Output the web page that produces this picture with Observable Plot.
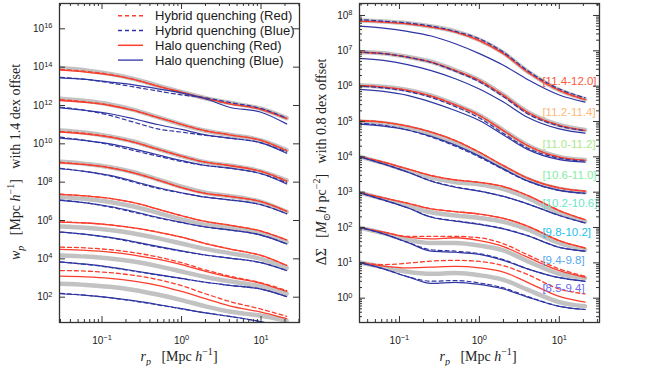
<!DOCTYPE html>
<html><head><meta charset="utf-8">
<script src="https://cdn.jsdelivr.net/npm/d3@7"></script>
<script src="https://cdn.jsdelivr.net/npm/@observablehq/plot@0.6"></script>
<style>
body{margin:0;background:#fff;}
#wrap{position:relative;width:664px;height:366px;overflow:hidden;background:#fff;}
#wrap svg.pl{position:absolute;top:0;}
.lab{position:absolute;font-family:"Liberation Serif","DejaVu Serif",serif;font-size:14px;color:#222;white-space:nowrap;line-height:1;}
.lab sub,.lab sup{font-size:10px;line-height:0;}
.rot{transform:translate(-50%,-50%) rotate(-90deg);}
.hx{transform:translate(-50%,-50%);}
</style></head><body><div id="wrap"></div>
<script>
// projected separation grid (Mpc/h)
const rp = [0.03, 0.063, 0.126, 0.25, 0.5, 1, 2, 4, 10, 21];

// ---- left panel: log10 w_p (with 1.4 dex offsets), 8 stellar-mass bins, top -> bottom
const wpGray = [
[13.95,13.83,13.65,13.39,13.04,12.70,12.38,12.14,11.83,11.34],
[12.35,12.23,12.05,11.77,11.39,11.01,10.68,10.47,10.18,9.67],
[10.70,10.58,10.38,10.12,9.74,9.36,9.04,8.87,8.56,8.09],
[9.06,8.95,8.78,8.52,8.14,7.76,7.45,7.28,6.97,6.45],
[7.22,7.12,6.97,6.73,6.40,6.06,5.78,5.62,5.33,4.87],
[5.69,5.62,5.50,5.32,5.08,4.80,4.52,4.30,4.00,3.53],
[4.18,4.12,4.02,3.86,3.62,3.34,3.05,2.83,2.56,2.18],
[2.70,2.64,2.54,2.38,2.14,1.85,1.52,1.25,1.03,0.78]];
const wpRedHalo = [
[13.84,13.74,13.60,13.36,13.01,12.70,12.38,12.09,11.79,11.31],
[12.26,12.16,12.00,11.74,11.38,11.01,10.68,10.47,10.18,9.64],
[10.61,10.51,10.35,10.09,9.72,9.36,9.04,8.87,8.56,8.05],
[9.01,8.91,8.75,8.49,8.12,7.72,7.42,7.26,6.98,6.49],
[7.36,7.28,7.15,6.93,6.60,6.25,5.95,5.76,5.45,4.99],
[5.92,5.87,5.77,5.62,5.40,5.13,4.80,4.52,4.18,3.66],
[4.49,4.44,4.35,4.20,3.98,3.70,3.35,3.05,2.72,2.30],
[3.10,3.06,2.98,2.84,2.62,2.30,1.92,1.55,1.22,0.88]];
const wpRedHybrid = [
[13.88,13.78,13.62,13.36,13.01,12.66,12.35,12.09,11.83,11.34],
[12.31,12.19,12.02,11.74,11.38,11.01,10.68,10.47,10.18,9.65],
[10.64,10.54,10.37,10.09,9.72,9.36,9.04,8.87,8.56,8.07],
[9.03,8.92,8.76,8.49,8.12,7.72,7.42,7.26,6.98,6.48],
[7.37,7.28,7.15,6.93,6.60,6.25,5.95,5.76,5.45,4.99],
[5.93,5.87,5.77,5.62,5.40,5.13,4.80,4.52,4.18,3.66],
[4.61,4.57,4.48,4.33,4.10,3.80,3.42,3.10,2.75,2.35],
[3.39,3.36,3.28,3.14,2.92,2.60,2.18,1.78,1.38,1.00]];
const wpBlueHalo = [
[13.44,13.36,13.22,13.08,12.87,12.66,12.35,11.91,11.65,11.04],
[11.88,11.74,11.57,11.31,11.01,10.75,10.47,10.30,10.05,9.51],
[10.30,10.17,10.00,9.74,9.43,9.13,8.87,8.73,8.44,7.91],
[8.70,8.55,8.35,8.05,7.72,7.45,7.22,7.08,6.82,6.35],
[7.05,6.92,6.73,6.47,6.17,5.90,5.66,5.51,5.24,4.78],
[5.39,5.28,5.12,4.90,4.65,4.42,4.20,4.04,3.80,3.39],
[3.83,3.72,3.57,3.38,3.18,2.98,2.78,2.62,2.42,2.03],
[2.18,2.10,1.98,1.82,1.62,1.40,1.18,1.00,0.72,0.40]];
const wpBlueHybrid = [
[13.47,13.36,13.18,12.97,12.76,12.55,12.40,12.16,11.84,11.34],
[11.91,11.74,11.48,11.13,10.78,10.61,10.44,10.30,10.05,9.57],
[10.35,10.17,9.95,9.65,9.36,9.08,8.87,8.73,8.44,7.97],
[8.72,8.55,8.32,8.00,7.68,7.43,7.22,7.08,6.82,6.36],
[7.07,6.92,6.70,6.43,6.14,5.89,5.66,5.51,5.24,4.78],
[5.40,5.27,5.10,4.87,4.62,4.40,4.19,4.04,3.80,3.39],
[3.84,3.71,3.55,3.36,3.16,2.97,2.78,2.62,2.42,2.03],
[2.20,2.10,1.97,1.80,1.60,1.39,1.18,1.00,0.72,0.40]];

// ---- right panel: log10 DeltaSigma (with offsets)
const dsGray = [
[7.86,7.83,7.78,7.69,7.55,7.31,6.94,6.42,5.89,5.63],
[6.97,6.93,6.83,6.69,6.45,6.17,5.75,5.27,4.90,4.76],
[6.03,5.98,5.89,5.73,5.48,5.18,4.75,4.33,4.00,3.91],
[5.00,4.95,4.84,4.66,4.41,4.08,3.71,3.37,3.09,3.00],
[4.02,3.82,3.61,3.41,3.28,3.22,3.09,2.84,2.41,2.17],
[3.00,2.81,2.62,2.43,2.34,2.27,2.16,1.95,1.56,1.37],
[2.01,1.84,1.65,1.56,1.56,1.49,1.35,1.05,0.69,0.57],
[1.02,0.88,0.75,0.69,0.71,0.65,0.52,0.24,-0.11,-0.23]];
const dsRedHalo = [
[7.84,7.81,7.76,7.67,7.53,7.29,6.92,6.40,5.88,5.62],
[6.96,6.92,6.82,6.68,6.44,6.16,5.74,5.26,4.89,4.75],
[6.02,5.97,5.88,5.72,5.47,5.17,4.74,4.32,3.99,3.90],
[5.03,4.98,4.87,4.70,4.46,4.13,3.75,3.40,3.12,3.03],
[4.02,3.85,3.66,3.47,3.35,3.28,3.16,2.91,2.48,2.22],
[3.00,2.84,2.69,2.53,2.45,2.38,2.26,2.04,1.63,1.42],
[2.01,1.87,1.73,1.68,1.71,1.63,1.46,1.16,0.78,0.59],
[1.02,0.91,0.86,0.88,0.90,0.86,0.74,0.45,0.05,-0.11]];
const dsRedHybrid = [
[7.85,7.82,7.77,7.68,7.54,7.30,6.93,6.41,5.88,5.62],
[6.96,6.92,6.82,6.68,6.44,6.16,5.74,5.26,4.89,4.75],
[6.02,5.97,5.88,5.72,5.47,5.17,4.74,4.32,3.99,3.90],
[5.03,4.98,4.87,4.70,4.46,4.13,3.75,3.40,3.12,3.03],
[4.02,3.85,3.66,3.47,3.35,3.28,3.16,2.91,2.48,2.22],
[3.00,2.84,2.69,2.53,2.45,2.38,2.26,2.04,1.63,1.42],
[2.01,1.87,1.75,1.75,1.75,1.71,1.54,1.23,0.83,0.62],
[1.02,0.95,0.99,1.05,1.07,1.04,0.92,0.67,0.26,0.12]];
const dsBlueHalo = [
[7.70,7.64,7.55,7.42,7.20,6.92,6.59,6.19,5.75,5.55],
[6.79,6.73,6.61,6.44,6.21,5.92,5.55,5.12,4.79,4.67],
[5.91,5.85,5.74,5.55,5.31,5.03,4.62,4.21,3.92,3.85],
[4.93,4.87,4.76,4.58,4.33,4.02,3.66,3.32,3.05,2.97],
[4.02,3.80,3.57,3.31,3.14,3.03,2.88,2.67,2.34,2.13],
[3.00,2.78,2.56,2.29,2.18,2.09,1.96,1.77,1.44,1.33],
[2.01,1.82,1.58,1.33,1.30,1.24,1.07,0.83,0.58,0.48],
[1.02,0.83,0.61,0.42,0.45,0.39,0.26,0.03,-0.23,-0.32]];
const dsBlueHybrid = [
[7.89,7.84,7.79,7.70,7.55,7.34,6.96,6.44,5.92,5.67],
[6.96,6.92,6.82,6.67,6.42,6.12,5.70,5.22,4.87,4.74],
[6.00,5.95,5.85,5.68,5.42,5.10,4.66,4.25,3.96,3.88],
[4.95,4.89,4.76,4.56,4.30,3.99,3.64,3.31,3.05,2.97],
[4.02,3.80,3.57,3.32,3.15,3.03,2.88,2.67,2.34,2.13],
[3.00,2.78,2.56,2.30,2.19,2.10,1.97,1.77,1.44,1.33],
[2.01,1.82,1.58,1.37,1.33,1.26,1.09,0.83,0.58,0.48],
[1.02,0.83,0.61,0.48,0.50,0.43,0.29,0.05,-0.23,-0.32]];

// ---- bin labels (log10 stellar mass ranges)
const binLabels = ["[11.4-12.0]","[11.2-11.4]","[11.0-11.2]","[10.6-11.0]","[10.2-10.6]","[9.8-10.2]","[9.4-9.8]","[8.5-9.4]"];
const binColors = ["#fb5a3c","#fdb878","#aee88e","#86eea4","#6ae6c8","#26c0e8","#58a8f0","#6a6af0"];
const binLabelX = 6.15;
const binLabelLogY = [6.13,5.25,4.35,3.47,2.68,1.86,1.07,0.28];

// ---- ticks
const xMajor = [0.1, 1, 10];
const wpMajor = [1e2,1e4,1e6,1e8,1e10,1e12,1e14,1e16];
const dsMajor = [1,10,1e2,1e3,1e4,1e5,1e6,1e7,1e8];
const legendItems = [
  {label:"Hybrid quenching (Red)", color:"red", dash:true},
  {label:"Hybrid quenching (Blue)", color:"blue", dash:true},
  {label:"Halo quenching (Red)", color:"red", dash:false},
  {label:"Halo quenching (Blue)", color:"blue", dash:false}];

const RED = "#fb3d2c", BLUE = "#2f35a2", GRAY = "#c2c2c2";
const INK = "#333";

function rows(arr){ return arr.flatMap((g,i)=>g.map((v,j)=>({bin:i, rp:rp[j], y:Math.pow(10,v)}))); }
function minorTicks(lo, hi){ const out=[]; for(let e=Math.floor(Math.log10(lo)); e<=Math.ceil(Math.log10(hi)); e++){ for(let m=2;m<=9;m++){const v=m*Math.pow(10,e); if(v>=lo&&v<=hi) out.push(v);} } return out; }
const sup = (v)=>{ const e=Math.round(Math.log10(v)); return "10^"+(e<0?"\u2212"+(-e):e); };

function panel({width, mL, mR, xDom, yDom, gray, redH, redY, blueH, blueY, yMajor, yMinor, extra=[]}){
  const mT=3, mB=44, H=366;
  const fw = width-mL-mR, fh = H-mT-mB;
  const xs = xMajor.filter(v=>v>=xDom[0]&&v<=xDom[1]);
  const xm = minorTicks(xDom[0], xDom[1]);
  const ym = yMinor ? minorTicks(yDom[0], yDom[1]) : [];
  const ys = yMajor.filter(v=>v>=yDom[0]&&v<=yDom[1]);
  const tk = {stroke:INK, strokeWidth:1};
  const p = Plot.plot({
    width, height:H, marginLeft:mL, marginRight:mR, marginTop:mT, marginBottom:mB,
    x:{type:"log", domain:xDom}, y:{type:"log", domain:yDom},
    style:{fontFamily:"'Liberation Sans', Arial, sans-serif", fontSize:"10px", color:"#222", background:"transparent", overflow:"visible"},
    marks:[
      Plot.line(rows(gray), {x:"rp", y:"y", z:"bin", stroke:GRAY, strokeWidth:4.5, curve:"monotone-x", clip:true}),
      Plot.line(rows(redH), {x:"rp", y:"y", z:"bin", stroke:RED, strokeWidth:1.3, curve:"monotone-x", clip:true}),
      Plot.line(rows(redY), {x:"rp", y:"y", z:"bin", stroke:RED, strokeWidth:1.3, strokeDasharray:"4,3", curve:"monotone-x", clip:true}),
      Plot.line(rows(blueH), {x:"rp", y:"y", z:"bin", stroke:BLUE, strokeWidth:1.2, curve:"monotone-x", clip:true}),
      Plot.line(rows(blueY), {x:"rp", y:"y", z:"bin", stroke:BLUE, strokeWidth:1.2, strokeDasharray:"4,3", curve:"monotone-x", clip:true}),
      ...extra,
      Plot.tickX(xs, {x:d=>d, insetTop:fh-6, ...tk}),
      Plot.tickX(xs, {x:d=>d, insetBottom:fh-6, ...tk}),
      Plot.tickX(xm, {x:d=>d, insetTop:fh-3, ...tk}),
      Plot.tickX(xm, {x:d=>d, insetBottom:fh-3, ...tk}),
      Plot.tickY(ys, {y:d=>d, insetRight:fw-6, ...tk}),
      Plot.tickY(ys, {y:d=>d, insetLeft:fw-6, ...tk}),
      Plot.tickY(ym, {y:d=>d, insetRight:fw-3, ...tk}),
      Plot.tickY(ym, {y:d=>d, insetLeft:fw-3, ...tk}),
      Plot.axisX({ticks:xs, tickSize:0, tickPadding:14, tickFormat:sup, label:null}),
      Plot.axisY({ticks:ys, tickSize:0, tickPadding:7, tickFormat:sup, label:null}),
      Plot.frame({stroke:INK, strokeWidth:1.3})
    ]
  });
  p.classList.add("pl");
  p.querySelectorAll("g[aria-label$='tick label'] text").forEach(t=>{
    const m = t.textContent.match(/^10\^(.*)$/);
    if(!m) return;
    t.textContent = "10";
    const ts = document.createElementNS("http://www.w3.org/2000/svg","tspan");
    ts.setAttribute("dy","-0.5em"); ts.setAttribute("font-size","7.5px");
    ts.textContent = m[1]; t.appendChild(ts);
  });
  return p;
}

const wrap = document.getElementById("wrap");
const left = panel({width:330, mL:59, mR:31,
  xDom:[Math.pow(10,-1.535), Math.pow(10,1.484)], yDom:[Math.pow(10,0.68), Math.pow(10,17.32)],
  gray:wpGray, redH:wpRedHalo, redY:wpRedHybrid, blueH:wpBlueHalo, blueY:wpBlueHybrid,
  yMajor:wpMajor, yMinor:false});
left.style.left = "0px";
wrap.appendChild(left);

const labelRows = binLabels.map((t,i)=>({t, c:binColors[i], y:Math.pow(10,binLabelLogY[i])}));
const right = panel({width:334, mL:29, mR:65,
  xDom:[Math.pow(10,-1.5), Math.pow(10,1.503)], yDom:[Math.pow(10,-0.688), Math.pow(10,8.339)],
  gray:dsGray, redH:dsRedHalo, redY:dsRedHybrid, blueH:dsBlueHalo, blueY:dsBlueHybrid,
  yMajor:dsMajor, yMinor:true,
  extra:[Plot.text(labelRows, {x:()=>binLabelX, y:"y", text:"t", fill:"c", textAnchor:"start", fontSize:11.5, fontFamily:"'Liberation Sans', Arial, sans-serif"})]});
right.style.left = "330px";
wrap.appendChild(right);

// legend (upper part of the left panel)
const NS="http://www.w3.org/2000/svg";
const lg = document.createElementNS(NS,"svg");
lg.setAttribute("width","200"); lg.setAttribute("height","70");
lg.style.cssText="position:absolute;left:110px;top:6px;";
legendItems.forEach((it,i)=>{
  const y = 9.7 + i*14.8;
  const ln = document.createElementNS(NS,"line");
  ln.setAttribute("x1",8); ln.setAttribute("x2",33); ln.setAttribute("y1",y); ln.setAttribute("y2",y);
  ln.setAttribute("stroke", it.color==="red"?RED:BLUE); ln.setAttribute("stroke-width", it.color==="red"?1.5:1.3);
  if(it.dash) ln.setAttribute("stroke-dasharray","4,3");
  lg.appendChild(ln);
  const tx = document.createElementNS(NS,"text");
  tx.setAttribute("x",45); tx.setAttribute("y",y+4.6);
  tx.setAttribute("font-family","'Liberation Sans', Arial, sans-serif"); tx.setAttribute("font-size","13");
  tx.setAttribute("fill","#1a1a1a");
  tx.textContent = it.label; lg.appendChild(tx);
});
wrap.appendChild(lg);

// axis titles
function lab(html, x, y, cls){ const d=document.createElement("div"); d.className="lab "+cls; d.innerHTML=html; d.style.left=x+"px"; d.style.top=y+"px"; wrap.appendChild(d); }
const rpLab = '<i>r</i><sub><i>p</i></sub>&nbsp;&nbsp;&nbsp;[Mpc <i>h</i><sup>\u22121</sup>]';
lab(rpLab, 179, 357, "hx");
lab(rpLab, 478, 357, "hx");
lab('<i>w</i><sub><i>p</i></sub>&nbsp;&nbsp;&nbsp;[Mpc <i>h</i><sup>\u22121</sup>]&nbsp;&nbsp;&nbsp;with 1.4 dex offset', 16, 162, "rot");
lab('\u0394\u03a3&nbsp;&nbsp;&nbsp;[<i>M</i><sub>\u2299</sub><i>h</i> pc<sup>\u22122</sup>]&nbsp;&nbsp;&nbsp;with 0.8 dex offset', 322, 162, "rot");
</script></body></html>
